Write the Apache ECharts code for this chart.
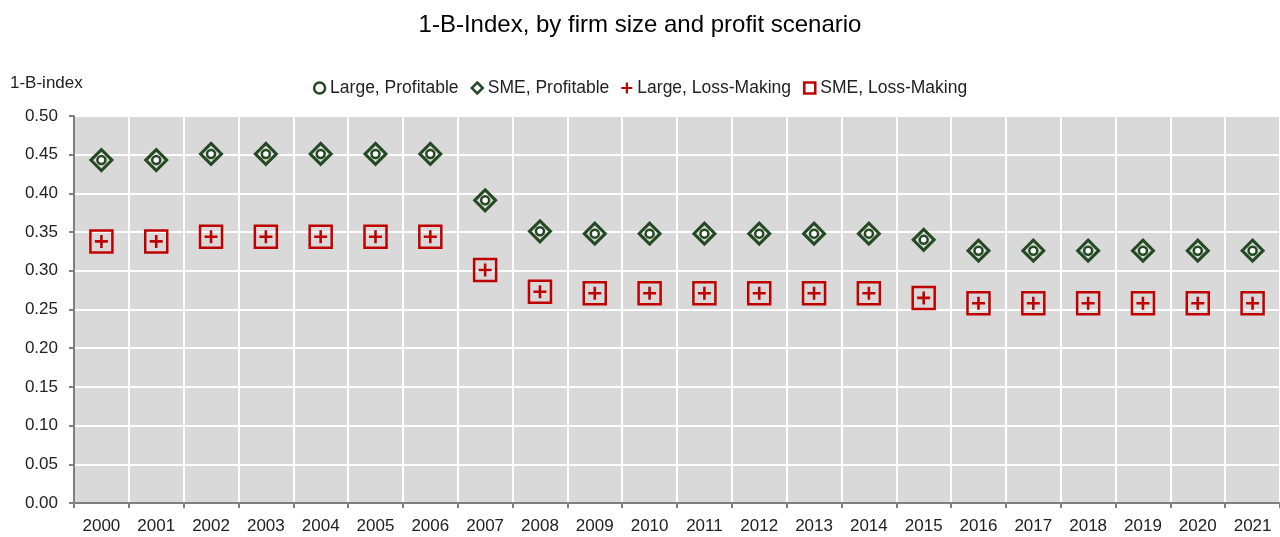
<!DOCTYPE html>
<html>
<head>
<meta charset="utf-8">
<script src="https://cdn.jsdelivr.net/npm/echarts@6/dist/echarts.min.js"></script>
<style>
  html, body { margin: 0; padding: 0; background: #fff; }
  #chart { width: 1280px; height: 537px; }
</style>
</head>
<body>
<div id="chart"></div>
<script>
const years = ['2000', '2001', '2002', '2003', '2004', '2005', '2006', '2007', '2008', '2009', '2010',
  '2011', '2012', '2013', '2014', '2015', '2016', '2017', '2018', '2019', '2020', '2021']

const largeProfitable = [0.443, 0.443, 0.451, 0.451, 0.451, 0.451, 0.451, 0.391, 0.351, 0.348, 0.348,
  0.348, 0.348, 0.348, 0.348, 0.340, 0.326, 0.326, 0.326, 0.326, 0.326, 0.326]
const smeProfitable = [0.443, 0.443, 0.451, 0.451, 0.451, 0.451, 0.451, 0.391, 0.351, 0.348, 0.348,
  0.348, 0.348, 0.348, 0.348, 0.340, 0.326, 0.326, 0.326, 0.326, 0.326, 0.326]
const largeLoss = [0.338, 0.338, 0.344, 0.344, 0.344, 0.344, 0.344, 0.301, 0.273, 0.271, 0.271,
  0.271, 0.271, 0.271, 0.271, 0.265, 0.258, 0.258, 0.258, 0.258, 0.258, 0.258]
const smeLoss = [0.338, 0.338, 0.344, 0.344, 0.344, 0.344, 0.344, 0.301, 0.273, 0.271, 0.271,
  0.271, 0.271, 0.271, 0.271, 0.265, 0.258, 0.258, 0.258, 0.258, 0.258, 0.258]

const GREEN = '#244a24'
const RED = '#c00000'
const plus = 'path://M4,0H6V4H10V6H6V10H4V6H0V4H4Z'

const myChart = echarts.init(document.getElementById('chart'))

const option = {
  animation: false,
  textStyle: { fontFamily: 'Liberation Sans, Arial, sans-serif' },
  title: {
    text: '1-B-Index, by firm size and profit scenario',
    left: 'center',
    top: 8,
    textStyle: { fontSize: 24, fontWeight: 'normal', color: '#000' },
  },
  legend: {
    top: 74,
    left: 'center',
    itemWidth: 11,
    itemHeight: 11,
    itemGap: 12,
    textStyle: { fontSize: 17.5, color: '#222' },
    data: [
      { name: 'Large, Profitable', icon: 'circle', itemStyle: { color: '#fff', borderColor: GREEN, borderWidth: 2.5 } },
      { name: 'SME, Profitable', icon: 'diamond', itemStyle: { color: '#fff', borderColor: GREEN, borderWidth: 2.5 } },
      { name: 'Large, Loss-Making', icon: plus, itemStyle: { color: RED, borderWidth: 0 } },
      { name: 'SME, Loss-Making', icon: 'rect', itemStyle: { color: '#fff', borderColor: RED, borderWidth: 2.5 } },
    ],
  },
  grid: {
    left: 74,
    right: 0,
    top: 116,
    bottom: 34,
    show: true,
    backgroundColor: '#d9d9d9',
    borderWidth: 0,
  },
  xAxis: {
    type: 'category',
    data: years,
    boundaryGap: true,
    axisLine: { lineStyle: { color: '#808080', width: 2 } },
    axisTick: { show: true, length: 5, lineStyle: { color: '#808080', width: 2 } },
    axisLabel: { fontSize: 17, color: '#222', margin: 15 },
    splitLine: { show: true, lineStyle: { color: '#fff', width: 2 } },
  },
  yAxis: {
    type: 'value',
    name: '1-B-index',
    nameLocation: 'end',
    nameGap: 24,
    nameTextStyle: { fontSize: 17, color: '#222', align: 'left', padding: [0, 0, 0, -64] },
    min: 0,
    max: 0.5,
    interval: 0.05,
    axisLine: { show: true, lineStyle: { color: '#808080', width: 2 } },
    axisTick: { show: true, length: 5, lineStyle: { color: '#808080', width: 2 } },
    axisLabel: { fontSize: 17, color: '#222', margin: 16, formatter: (v) => v.toFixed(2) },
    splitLine: { show: true, lineStyle: { color: '#fff', width: 2 } },
  },
  series: [
    {
      name: 'SME, Profitable',
      type: 'scatter',
      data: smeProfitable,
      symbol: 'diamond',
      symbolSize: 21,
      z: 2,
      itemStyle: { color: 'rgba(0,0,0,0)', borderColor: GREEN, borderWidth: 3, opacity: 1 },
    },
    {
      name: 'Large, Profitable',
      type: 'scatter',
      data: largeProfitable,
      symbol: 'circle',
      symbolSize: 8,
      z: 3,
      itemStyle: { color: '#fff', borderColor: GREEN, borderWidth: 2.5, opacity: 1 },
    },
    {
      name: 'SME, Loss-Making',
      type: 'scatter',
      data: smeLoss,
      symbol: 'rect',
      symbolSize: 22,
      z: 2,
      itemStyle: { color: 'rgba(0,0,0,0)', borderColor: RED, borderWidth: 2.5, opacity: 1 },
    },
    {
      name: 'Large, Loss-Making',
      type: 'scatter',
      data: largeLoss,
      symbol: plus,
      symbolSize: 13,
      z: 3,
      itemStyle: { color: RED, opacity: 1 },
    },
  ],
}

myChart.setOption(option)
</script>
</body>
</html>
